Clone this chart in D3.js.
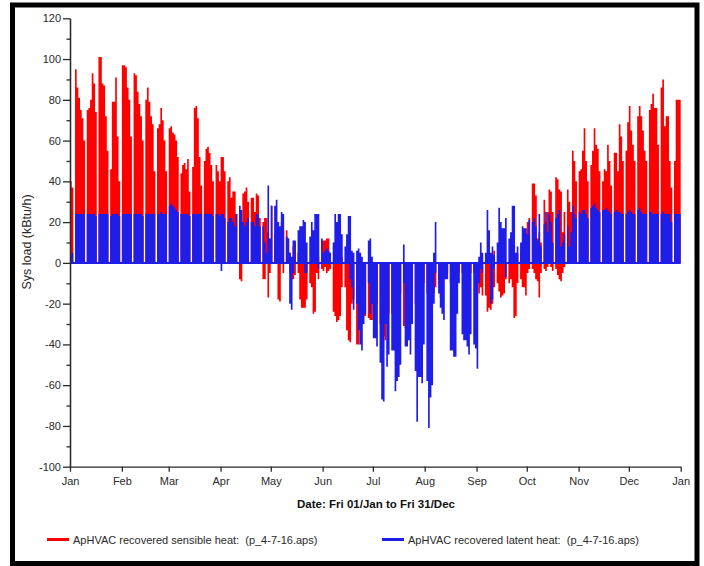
<!DOCTYPE html>
<html>
<head>
<meta charset="utf-8">
<script src="https://cdn.jsdelivr.net/npm/d3@7"></script>
<style>
  html, body { margin: 0; padding: 0; background: #fff; }
  svg { display: block; font-family: "Liberation Sans", Arial, sans-serif; }
</style>
</head>
<body>
<svg id="chart" width="704" height="566"></svg>
<script>
// Simulation year: Fri 01/Jan to Fri 31/Dec (2010), one value per day.
const yearStart = new Date(Date.UTC(2010, 0, 1));
const yearEnd = new Date(Date.UTC(2011, 0, 1));

const monthLabels = ["Jan", "Feb", "Mar", "Apr", "May", "Jun", "Jul", "Aug", "Sep", "Oct", "Nov", "Dec", "Jan"];
const yMajorTicks = [-100, -80, -60, -40, -20, 0, 20, 40, 60, 80, 100, 120];
const yMinorTicks = [-90, -70, -50, -30, -10, 10, 30, 50, 70, 90, 110];
const seriesNames = [
  "ApHVAC recovered sensible heat:  (p_4-7-16.aps)",
  "ApHVAC recovered latent heat:  (p_4-7-16.aps)"
];
const seriesColors = ["#ff0000", "#1e1ee8"];

// Daily peak of recovered sensible heat (kBtu/h); rows are Mon..Sun weeks,
// the first row is Fri 01 - Sun 03 Jan and the last row Mon 27 - Fri 31 Dec.
const sensibleHigh = [
  40, 37, 0,
  95, 86, 81, 75, 71, 60, 0,
  75, 76, 80, 93, 88, 74, 0,
  101, 101, 88, 87, 72, 55, 0,
  46, 79, 79, 91, 62, 40, 0,
  97, 97, 96, 86, 80, 62, 0,
  93, 92, 84, 78, 72, 60, 0,
  80, 86, 79, 72, 68, 45, 0,
  66, 68, 76, 70, 60, 45, 0,
  66, 67, 64, 63, 60, 52, 0,
  44, 48, 49, 46, 51, 35, 0,
  47, 76, 77, 71, 52, 38, 0,
  50, 56, 57, 54, 48, 40, 0,
  48, 45, 40, 52, 52, 45, 0,
  40, 42, 32, 35, 35, 24, 0,
  10, 0, 34, 35, 37, 30, 0,
  32, 32, 25, 34, 33, 22, 0,
  20, 22, 22, 15, 5, 28, 0,
  14, 20, 10, 5, 20, 16, 0,
  16, 12, 5, 0, 8, 10, 0,
  5, 0, 0, 0, 0, 0, 0,
  0, 0, 0, 0, 5, 3, 0,
  11, 11, 11, 12, 12, 5, 0,
  0, 0, 0, 0, 0, 3, 0,
  0, 0, 0, 0, 0, 0, 0,
  0, 0, 0, 0, 0, 0, 0,
  0, 0, 0, 0, 0, 0, 0,
  0, 0, 0, 0, 0, 0, 0,
  0, 0, 0, 0, 0, 0, 0,
  0, 0, 0, 0, 0, 0, 0,
  0, 0, 0, 0, 0, 0, 0,
  0, 0, 0, 0, 0, 0, 0,
  0, 0, 0, 0, 0, 0, 0,
  0, 0, 0, 0, 0, 0, 0,
  0, 0, 0, 0, 0, 0, 0,
  0, 0, 0, 0, 5, 0, 0,
  0, 0, 0, 0, 0, 6, 0,
  0, 0, 0, 0, 0, 0, 0,
  0, 11, 11, 0, 0, 5, 0,
  5, 8, 10, 14, 20, 22, 0,
  39, 39, 33, 12, 15, 10, 0,
  31, 20, 25, 36, 35, 25, 0,
  42, 41, 36, 35, 15, 25, 0,
  36, 30, 25, 55, 50, 40, 0,
  45, 46, 55, 66, 50, 40, 0,
  48, 55, 66, 58, 56, 45, 0,
  40, 46, 45, 58, 50, 38, 0,
  54, 54, 45, 68, 62, 50, 0,
  55, 69, 77, 65, 58, 50, 0,
  72, 77, 72, 65, 55, 50, 0,
  75, 78, 83, 76, 76, 58, 0,
  86, 90, 67, 72, 72, 50, 37,
  0, 50, 80, 80, 80
];

// Daily minimum (cooling side) of recovered sensible heat.
const sensibleLow = [
  0, 0, 0,
  0, 0, 0, 0, 0, 0, 0,
  0, 0, 0, 0, 0, 0, 0,
  0, 0, 0, 0, 0, 0, 0,
  0, 0, 0, 0, 0, 0, 0,
  0, 0, 0, 0, 0, 0, 0,
  0, 0, 0, 0, 0, 0, 0,
  0, 0, 0, 0, 0, 0, 0,
  0, 0, 0, 0, 0, 0, 0,
  0, 0, 0, 0, 0, 0, 0,
  0, 0, 0, 0, 0, 0, 0,
  0, 0, 0, 0, 0, 0, 0,
  0, 0, 0, 0, 0, 0, 0,
  0, 0, 0, 0, 0, 0, 0,
  0, 0, 0, 0, 0, 0, 0,
  -8, -9, 0, 0, 0, 0, 0,
  0, 0, 0, 0, 0, 0, 0,
  -8, -8, 0, -17, -5, 0, 0,
  0, 0, -18, -19, 0, -5, 0,
  0, 0, -5, -8, -8, -6, 0,
  -5, -18, -22, -22, -22, -18, 0,
  -10, -12, -25, -24, -5, -8, 0,
  -3, -4, -2, -5, -4, -3, 0,
  -24, -26, -29, -28, -26, -12, 0,
  -12, -33, -38, -39, -20, -18, 0,
  -40, -40, -30, -28, -26, -26, 0,
  -27, -28, -28, -20, -25, -20, 0,
  -30, -25, -36, -38, -30, -25, 0,
  -25, -22, -20, -20, -22, -15, 0,
  -31, -32, -20, -15, -18, -15, 0,
  -20, -20, -15, -15, -15, -10, 0,
  -15, -20, -15, -10, -15, -12, 0,
  -8, -17, -10, -8, -5, -5, 0,
  -10, -10, -8, -8, -5, -5, 0,
  -5, -5, -8, -8, -5, -5, 0,
  -5, -5, -10, -15, -12, -16, 0,
  -16, -24, -22, -23, -20, -12, 0,
  -10, -14, -17, -16, -15, -8, 0,
  -10, -8, -12, -27, -26, -10, 0,
  -8, -12, -12, -16, -5, -3, 0,
  -3, -5, -8, -9, -17, -5, 0,
  -3, -4, -2, 0, -2, -4, 0,
  -3, -6, -8, -9, -5, -2, 0,
  0, 0, 0, 0, 0, 0, 0,
  0, 0, 0, 0, 0, 0, 0,
  0, 0, 0, 0, 0, 0, 0,
  0, 0, 0, 0, 0, 0, 0,
  0, 0, 0, 0, 0, 0, 0,
  0, 0, 0, 0, 0, 0, 0,
  0, 0, 0, 0, 0, 0, 0,
  0, 0, 0, 0, 0, 0, 0,
  0, 0, 0, 0, 0, 0, 0,
  0, 0, 0, 0, 0
];

// Daily peak of recovered latent heat.
const latentHigh = [
  4, 5, 0,
  24, 24, 24, 24, 24, 24, 0,
  24, 24, 24, 24, 24, 23, 0,
  24, 24, 24, 24, 24, 24, 0,
  23, 24, 24, 24, 24, 23, 0,
  24, 24, 24, 24, 24, 24, 0,
  24, 24, 24, 24, 24, 23, 0,
  24, 24, 24, 24, 24, 24, 0,
  24, 24, 25, 24, 24, 24, 0,
  28, 29, 28, 27, 26, 25, 0,
  24, 24, 24, 24, 24, 23, 0,
  24, 24, 24, 24, 24, 24, 0,
  24, 24, 24, 24, 24, 23, 0,
  24, 24, 23, 24, 24, 22, 0,
  20, 22, 22, 20, 18, 24, 0,
  28, 26, 20, 18, 20, 22, 0,
  20, 20, 18, 24, 24, 18, 0,
  18, 10, 5, 38, 12, 28, 0,
  28, 31, 20, 18, 25, 24, 0,
  13, 12, 5, 3, 11, 11, 0,
  16, 18, 18, 21, 20, 10, 0,
  13, 20, 16, 24, 24, 24, 0,
  12, 5, 6, 7, 6, 5, 0,
  10, 24, 20, 24, 24, 14, 0,
  8, 14, 23, 23, 6, 5, 0,
  6, 7, 5, 3, 0, 0, 0,
  11, 12, 3, 0, 0, 0, 0,
  0, 0, 0, 0, 0, 0, 0,
  0, 0, 0, 0, 0, 0, 0,
  9, 0, 0, 0, 0, 0, 0,
  0, 0, 0, 0, 0, 0, 0,
  0, 0, 0, 0, 5, 20, 0,
  0, 0, 0, 0, 0, 0, 0,
  0, 0, 0, 0, 0, 0, 0,
  0, 0, 0, 0, 0, 0, 0,
  0, 0, 0, 3, 10, 5, 0,
  5, 26, 16, 5, 8, 4, 0,
  10, 27, 20, 17, 17, 22, 0,
  12, 15, 28, 28, 5, 8, 0,
  10, 18, 17, 17, 14, 21, 0,
  20, 22, 18, 11, 24, 8, 0,
  19, 25, 15, 24, 20, 10, 0,
  22, 24, 26, 8, 10, 14, 0,
  18, 8, 15, 28, 24, 22, 0,
  25, 24, 26, 26, 24, 22, 0,
  27, 28, 29, 27, 26, 25, 0,
  26, 26, 27, 26, 25, 24, 0,
  25, 26, 25, 25, 24, 24, 0,
  24, 25, 26, 25, 24, 24, 0,
  26, 27, 25, 24, 24, 24, 0,
  25, 25, 24, 24, 24, 24, 0,
  24, 25, 24, 24, 24, 24, 20,
  0, 24, 24, 24, 24
];

// Daily minimum (dehumidification side) of recovered latent heat.
const latentLow = [
  0, 0, 0,
  0, 0, 0, 0, 0, 0, 0,
  0, 0, 0, 0, 0, 0, 0,
  0, 0, 0, 0, 0, 0, 0,
  0, 0, 0, 0, 0, 0, 0,
  0, 0, 0, 0, 0, 0, 0,
  0, 0, 0, 0, 0, 0, 0,
  0, 0, 0, 0, 0, 0, 0,
  0, 0, 0, 0, 0, 0, 0,
  0, 0, 0, 0, 0, 0, 0,
  0, 0, 0, 0, 0, 0, 0,
  0, 0, 0, 0, 0, 0, 0,
  0, 0, 0, 0, 0, 0, 0,
  0, 0, 0, -4, 0, 0, 0,
  0, 0, 0, 0, 0, 0, 0,
  0, 0, 0, 0, 0, 0, 0,
  0, 0, 0, 0, 0, 0, 0,
  0, 0, 0, 0, 0, 0, 0,
  0, 0, 0, 0, 0, 0, 0,
  0, 0, -20, -23, -5, 0, 0,
  0, 0, 0, 0, -5, -5, 0,
  0, 0, 0, 0, 0, -3, 0,
  0, 0, 0, 0, 0, 0, 0,
  0, 0, 0, 0, 0, 0, 0,
  0, 0, 0, -8, -12, -23, 0,
  -20, -33, -40, -43, -30, -25, 0,
  -10, -25, -20, -37, -37, -41, 0,
  -49, -67, -68, -30, -51, -45, 0,
  -43, -43, -63, -58, -56, -50, 0,
  -10, -41, -41, -38, -45, -30, 0,
  -53, -78, -56, -56, -59, -40, 0,
  -58, -81, -66, -60, -20, -5, 0,
  -15, -22, -25, -28, -8, -8, 0,
  -43, -43, -46, -46, -25, -10, 0,
  -35, -38, -38, -41, -45, -35, 0,
  -40, -42, -52, -10, -3, -5, 0,
  0, 0, 0, -20, -18, -3, 0,
  0, 0, 0, 0, 0, -7, 0,
  0, 0, 0, 0, 0, 0, 0,
  0, 0, 0, 0, 0, 0, 0,
  0, 0, 0, 0, 0, 0, 0,
  0, 0, 0, 0, 0, 0, 0,
  0, 0, 0, 0, 0, 0, 0,
  0, 0, 0, 0, 0, 0, 0,
  0, 0, 0, 0, 0, 0, 0,
  0, 0, 0, 0, 0, 0, 0,
  0, 0, 0, 0, 0, 0, 0,
  0, 0, 0, 0, 0, 0, 0,
  0, 0, 0, 0, 0, 0, 0,
  0, 0, 0, 0, 0, 0, 0,
  0, 0, 0, 0, 0, 0, 0,
  0, 0, 0, 0, 0, 0, 0,
  0, 0, 0, 0, 0
];

const svg = d3.select("#chart");
const ink = "#2a2a2a";

// Outer frame
svg.append("rect")
  .attr("x", 12.5).attr("y", 5).attr("width", 684.5).attr("height", 558.5)
  .attr("fill", "none").attr("stroke", "#000").attr("stroke-width", 5);

const x = d3.scaleUtc().domain([yearStart, yearEnd]).range([70, 680.7]);
const y = d3.scaleLinear().domain([-100, 120]).range([466.7, 18.3]);

const days = d3.utcDay.range(yearStart, yearEnd);
const plot = svg.append("g");

// One stepped band per series side: each day is held flat from its start to the next day.
function band(values, color) {
  const pts = values.map((v, i) => ({ t: days[i], v }));
  pts.push({ t: yearEnd, v: values[values.length - 1] });
  const area = d3.area()
    .curve(d3.curveStepAfter)
    .x(p => x(p.t))
    .y0(y(0))
    .y1(p => y(p.v));
  plot.append("path").attr("d", area(pts)).attr("fill", color);
}

band(sensibleHigh, seriesColors[0]);
band(sensibleLow, seriesColors[0]);
band(latentHigh, seriesColors[1]);
band(latentLow, seriesColors[1]);

// Latent trace sits on zero whenever the plant is idle.
plot.append("line")
  .attr("x1", x(yearStart)).attr("x2", x(yearEnd))
  .attr("y1", y(0)).attr("y2", y(0))
  .attr("stroke", seriesColors[1]).attr("stroke-width", 2);

// Axes
const yAxis = d3.axisLeft(y).tickValues(yMajorTicks).tickSize(7).tickSizeOuter(0)
  .tickPadding(2).tickFormat(d => String(d));
const yMinor = d3.axisLeft(y).tickValues(yMinorTicks).tickSize(3.5).tickSizeOuter(0).tickFormat("");
const xAxis = d3.axisBottom(x)
  .tickValues(d3.utcMonth.range(yearStart, d3.utcDay.offset(yearEnd, 1)))
  .tickFormat((d, i) => monthLabels[i])
  .tickSize(5).tickSizeOuter(0).tickPadding(6);

svg.append("g").attr("transform", `translate(${x.range()[0]},0)`).call(yAxis);
svg.append("g").attr("transform", `translate(${x.range()[0]},0)`).call(yMinor);
svg.append("g").attr("transform", `translate(0,${y.range()[0]})`).call(xAxis);

svg.selectAll(".domain, .tick line").attr("stroke", ink).attr("stroke-width", 1.3);
svg.selectAll(".tick text").attr("fill", ink).style("font-size", "11px")
  .style("font-family", "'Liberation Sans', Arial, sans-serif");

// Axis titles
svg.append("text")
  .attr("transform", "translate(31,242) rotate(-90)")
  .attr("text-anchor", "middle")
  .attr("fill", ink)
  .style("font-size", "12.5px")
  .text("Sys load (kBtu/h)");

svg.append("text")
  .attr("x", 376).attr("y", 508)
  .attr("text-anchor", "middle")
  .attr("fill", "#111")
  .style("font-size", "11.5px")
  .style("font-weight", "bold")
  .text("Date: Fri 01/Jan to Fri 31/Dec");

// Legend
const legendItems = [
  { x: 47, name: seriesNames[0], color: seriesColors[0] },
  { x: 382, name: seriesNames[1], color: seriesColors[1] }
];
const lg = svg.append("g").selectAll("g").data(legendItems).join("g")
  .attr("transform", d => `translate(${d.x},539.5)`);
lg.append("line").attr("x1", 0).attr("x2", 22).attr("y1", 0).attr("y2", 0)
  .attr("stroke", d => d.color).attr("stroke-width", 3);
lg.append("text").attr("x", 26).attr("y", 4)
  .attr("fill", ink).style("font-size", "11px").style("white-space", "pre")
  .text(d => d.name);
</script>
</body>
</html>
